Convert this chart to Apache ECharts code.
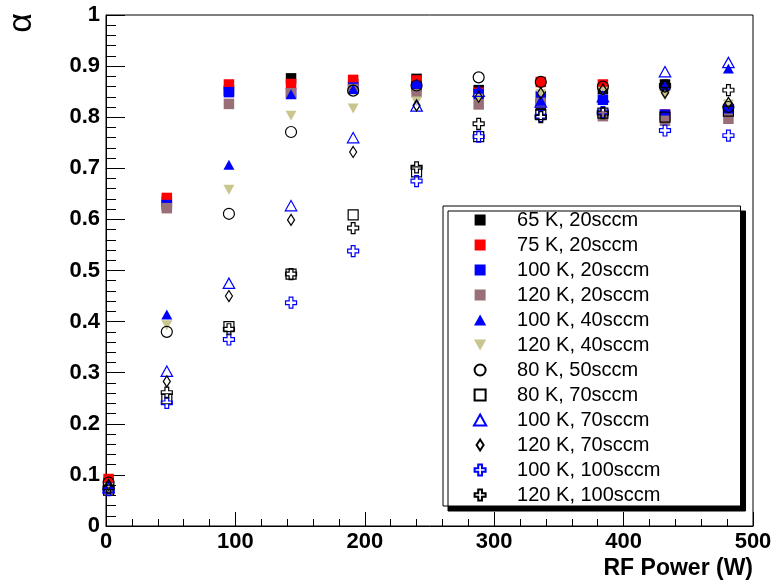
<!DOCTYPE html>
<html>
<head>
<meta charset="utf-8">
<script src="https://cdn.jsdelivr.net/npm/echarts@6/dist/echarts.min.js"></script>
<style>
  html, body { margin: 0; padding: 0; background: #ffffff; }
  #chart { width: 774px; height: 585px; }
</style>
</head>
<body>
<div id="chart"></div>
<script>
// RF power settings (W)
const power = [2, 47, 95, 143, 191, 240, 288, 336, 384, 432, 481];

// alpha measured for each temperature / flow combination
const k65f20   = [0.085, 0.635, 0.852, 0.876, 0.865, 0.875, 0.853, 0.823, 0.855, 0.864, 0.815];
const k75f20   = [0.092, 0.642, 0.864, 0.865, 0.873, 0.872, 0.848, 0.869, 0.864, 0.805, 0.815];
const k100f20  = [0.075, 0.628, 0.849, 0.847, 0.858, 0.860, 0.845, 0.841, 0.834, 0.805, 0.815];
const k120f20  = [0.070, 0.622, 0.826, 0.847, 0.855, 0.849, 0.825, 0.828, 0.802, 0.793, 0.797];
const k100f40  = [0.080, 0.414, 0.707, 0.845, 0.855, 0.865, 0.850, 0.832, 0.840, 0.862, 0.895];
const k120f40  = [0.075, 0.393, 0.658, 0.803, 0.817, 0.831, 0.836, 0.845, 0.850, 0.842, 0.825];
const k80f50   = [0.085, 0.380, 0.611, 0.771, 0.852, 0.862, 0.878, 0.869, 0.860, 0.860, 0.820];
const k80f70   = [0.070, 0.249, 0.390, 0.493, 0.609, 0.693, 0.762, 0.805, 0.808, 0.800, 0.812];
const k100f70  = [0.075, 0.303, 0.475, 0.627, 0.760, 0.822, 0.851, 0.830, 0.840, 0.889, 0.907];
const k120f70  = [0.080, 0.283, 0.450, 0.599, 0.732, 0.823, 0.840, 0.847, 0.854, 0.848, 0.828];
const k100f100 = [0.070, 0.241, 0.365, 0.437, 0.538, 0.675, 0.762, 0.802, 0.810, 0.774, 0.764];
const k120f100 = [0.075, 0.261, 0.385, 0.493, 0.583, 0.702, 0.787, 0.800, 0.808, 0.862, 0.853];

const seriesNames = [
  '65 K, 20sccm', '75 K, 20sccm', '100 K, 20sccm', '120 K, 20sccm',
  '100 K, 40sccm', '120 K, 40sccm', '80 K, 50sccm', '80 K, 70sccm',
  '100 K, 70sccm', '120 K, 70sccm', '100 K, 100sccm', '120 K, 100sccm'
];
const seriesValues = [
  k65f20, k75f20, k100f20, k120f20, k100f40, k120f40,
  k80f50, k80f70, k100f70, k120f70, k100f100, k120f100
];

// marker outlines as paths so the legend icons keep their proportions
const SQUARE   = 'path://M0,0L10,0L10,10L0,10Z';
const TRI_UP   = 'path://M5,0L10,9L0,9Z';
const TRI_DOWN = 'path://M0,0L10,0L5,9Z';
const CIRCLE   = 'path://M0,5A5,5 0 1,1 10,5A5,5 0 1,1 0,5Z';
const DIAMOND  = 'path://M3.5,0L7,5.5L3.5,11L0,5.5Z';
const CROSS    = 'path://M3.3,0L6.7,0L6.7,3.3L10,3.3L10,6.7L6.7,6.7L6.7,10L3.3,10L3.3,6.7L0,6.7L0,3.3L3.3,3.3Z';

const markerStyles = [
  { symbol: SQUARE,   size: 10.5, fill: '#000000' },
  { symbol: SQUARE,   size: 10.5, fill: '#ff0000' },
  { symbol: SQUARE,   size: 10.5, fill: '#0000ff' },
  { symbol: SQUARE,   size: 10.5, fill: '#997078' },
  { symbol: TRI_UP,   size: 11,   fill: '#0000ff' },
  { symbol: TRI_DOWN, size: 11,   fill: '#c9c58f' },
  { symbol: CIRCLE,   size: 11,   stroke: '#000000' },
  { symbol: SQUARE,   size: 10,   stroke: '#000000' },
  { symbol: TRI_UP,   size: 11.5, stroke: '#0000ff' },
  { symbol: DIAMOND,  size: 11,   stroke: '#000000' },
  { symbol: CROSS,    size: 11,   stroke: '#0000ff' },
  { symbol: CROSS,    size: 11,   stroke: '#000000' }
];

const FONT = 'Liberation Sans, Arial, Helvetica, sans-serif';

const series = seriesNames.map(function (name, s) {
  const m = markerStyles[s];
  return {
    type: 'scatter',
    name: name,
    data: power.map(function (x, i) { return [x, seriesValues[s][i]]; }),
    symbol: m.symbol,
    symbolSize: m.size,
    symbolKeepAspect: true,
    itemStyle: m.fill
      ? { color: m.fill, borderWidth: 0, opacity: 1 }
      : { color: 'rgba(255,255,255,0)', borderColor: m.stroke, borderWidth: 1.2, opacity: 1 },
    emphasis: { disabled: true },
    z: 2 + s
  };
});

const chart = echarts.init(document.getElementById('chart'), null, { renderer: 'canvas' });
chart.setOption({
  animation: false,
  backgroundColor: '#ffffff',
  title: {
    text: 'RF Power (W)',
    right: 21, top: 557,
    padding: 0,
    textStyle: { fontFamily: FONT, fontWeight: 'bold', fontSize: 23, color: '#000000' }
  },
  grid: {
    left: 106, right: 21, top: 15, bottom: 59,
    show: true, borderColor: '#000000', borderWidth: 1,
    backgroundColor: 'rgba(0,0,0,0)',
    outerBoundsMode: 'none'
  },
  xAxis: {
    type: 'value', min: 0, max: 500, interval: 100,
    axisLine: { show: true, onZero: false, lineStyle: { color: '#000000', width: 1 } },
    axisTick: { show: true, inside: true, length: 14, lineStyle: { color: '#000000' } },
    minorTick: { show: true, splitNumber: 5, length: 7, lineStyle: { color: '#000000' } },
    splitLine: { show: false },
    axisLabel: { fontFamily: FONT, fontWeight: 'bold', fontSize: 22, color: '#000000', margin: 5 }
  },
  yAxis: {
    type: 'value', min: 0, max: 1, interval: 0.1,
    axisLine: { show: true, onZero: false, lineStyle: { color: '#000000', width: 1 } },
    axisTick: { show: true, inside: true, length: 19, lineStyle: { color: '#000000' } },
    minorTick: { show: true, splitNumber: 5, length: 10, lineStyle: { color: '#000000' } },
    splitLine: { show: false },
    axisLabel: { fontFamily: FONT, fontWeight: 'bold', fontSize: 22, color: '#000000', margin: 6 }
  },
  legend: {
    orient: 'vertical',
    left: 443, top: 206,
    padding: [4, 80, 1, 30],
    itemGap: 5,
    itemWidth: 64, itemHeight: 11,
    selectedMode: false,
    backgroundColor: '#ffffff',
    borderColor: '#000000', borderWidth: 1,
    shadowColor: '#000000', shadowBlur: 0, shadowOffsetX: 5, shadowOffsetY: 5,
    textStyle: { fontFamily: FONT, fontSize: 20, color: '#000000' },
    data: seriesNames
  },
  graphic: [{
    type: 'text',
    x: 22, y: 23,
    rotation: Math.PI / 2,
    style: {
      text: 'α',
      font: 'normal 34px ' + FONT,
      fill: '#000000',
      align: 'center',
      verticalAlign: 'middle'
    }
  }],
  series: series
});
</script>
</body>
</html>
